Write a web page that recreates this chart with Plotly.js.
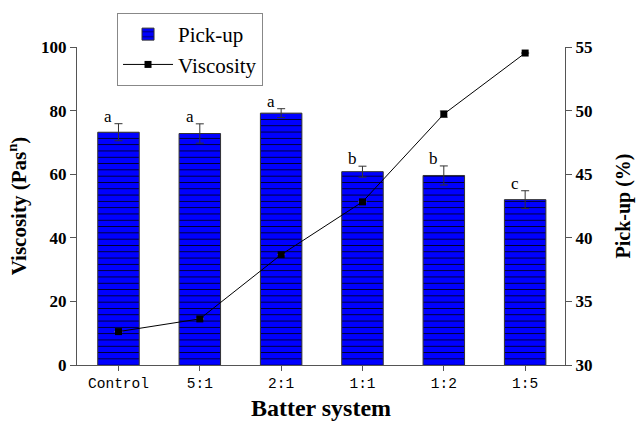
<!DOCTYPE html>
<html>
<head>
<meta charset="utf-8">
<script src="https://cdn.plot.ly/plotly-3.0.1.min.js"></script>
<style>body{margin:0;padding:0;background:#fff;} #chart{width:638px;height:421px;}</style>
</head>
<body>
<div id="chart"></div>
<script>
const categories = ["Control", "5:1", "2:1", "1:1", "1:2", "1:5"];
const pickup = [48.3, 48.2, 49.8, 45.2, 44.9, 43.0];
const pickupErr = [0.67, 0.76, 0.35, 0.43, 0.75, 0.7];
const viscosity = [10.5, 14.5, 34.7, 51.3, 78.9, 98.1];
const viscosityErr = [0, 0, 0, 0, 1.0, 0];
const letters = ["a", "a", "a", "b", "b", "c"];

const serif = "Liberation Serif, Times New Roman, serif";

const barTrace = {
  type: "bar", name: "Pick-up", x: categories, y: pickup, yaxis: "y",
  width: 0.51,
  marker: {
    color: "#0000ff",
    line: {color: "#333", width: 1},
    pattern: {shape: "-", size: 6.3, solidity: 0.12, fgcolor: "#000", bgcolor: "#0000ff"}
  },
  error_y: {type: "data", array: pickupErr, color: "#333", thickness: 1, width: 4}
};
const lineTrace = {
  type: "scatter", mode: "lines+markers", name: "Viscosity", x: categories, y: viscosity, yaxis: "y2",
  line: {color: "#000", width: 1},
  marker: {symbol: "square", size: 7, color: "#000"},
  error_y: {type: "data", array: viscosityErr, color: "#777", thickness: 1, width: 4}
};

const annotations = categories.map((c, i) => ({
  x: c, y: pickup[i] + pickupErr[i], xref: "x", yref: "y",
  text: letters[i], showarrow: false, xanchor: "center", yanchor: "bottom",
  xshift: -10, yshift: -4,
  font: {family: serif, size: 17, color: "#000"}
}));

const layout = {
  width: 638, height: 421,
  margin: {l: 77, r: 73, t: 47, b: 56},
  paper_bgcolor: "#fff", plot_bgcolor: "#fff",
  showlegend: true,
  legend: {
    x: 0.082, y: 1.107, xanchor: "left", yanchor: "top",
    bordercolor: "#888", borderwidth: 1, bgcolor: "#fff",
    font: {family: serif, size: 21, color: "#000"},
    traceorder: "normal", itemwidth: 50, tracegroupgap: 0
  },
  xaxis: {
    range: [-0.51, 5.49], showline: true, linecolor: "#555", linewidth: 1,
    ticks: "outside", ticklen: 5, tickcolor: "#555",
    tickfont: {family: "Liberation Mono, DejaVu Sans Mono, monospace", size: 14.5, color: "#000"},
    title: {text: "<b>Batter system</b>", font: {family: serif, size: 24, color: "#000"}, standoff: 8},
    showgrid: false, zeroline: false
  },
  yaxis: {
    side: "right", range: [30, 55], tickvals: [30, 35, 40, 45, 50, 55],
    showline: true, linecolor: "#555", linewidth: 1,
    ticks: "outside", ticklen: 6, tickcolor: "#555",
    tickfont: {family: serif, size: 17, color: "#000", weight: "bold"},
    title: {text: "<b>Pick-up (%)</b>", font: {family: serif, size: 20, color: "#000"}, standoff: 24},
    showgrid: false, zeroline: false
  },
  yaxis2: {
    side: "left", overlaying: "y", range: [0, 100], tickvals: [0, 20, 40, 60, 80, 100],
    showline: true, linecolor: "#555", linewidth: 1,
    ticks: "outside", ticklen: 6, tickcolor: "#555",
    tickfont: {family: serif, size: 17, color: "#000", weight: "bold"},
    title: {text: "<b>Viscosity (Pas<sup>n</sup>)</b>", font: {family: serif, size: 21, color: "#000"}, standoff: 8},
    showgrid: false, zeroline: false
  },
  annotations: annotations,
  bargap: 0.49
};

Plotly.newPlot("chart", [barTrace, lineTrace], layout, {displayModeBar: false, staticPlot: true});
</script>
</body>
</html>
